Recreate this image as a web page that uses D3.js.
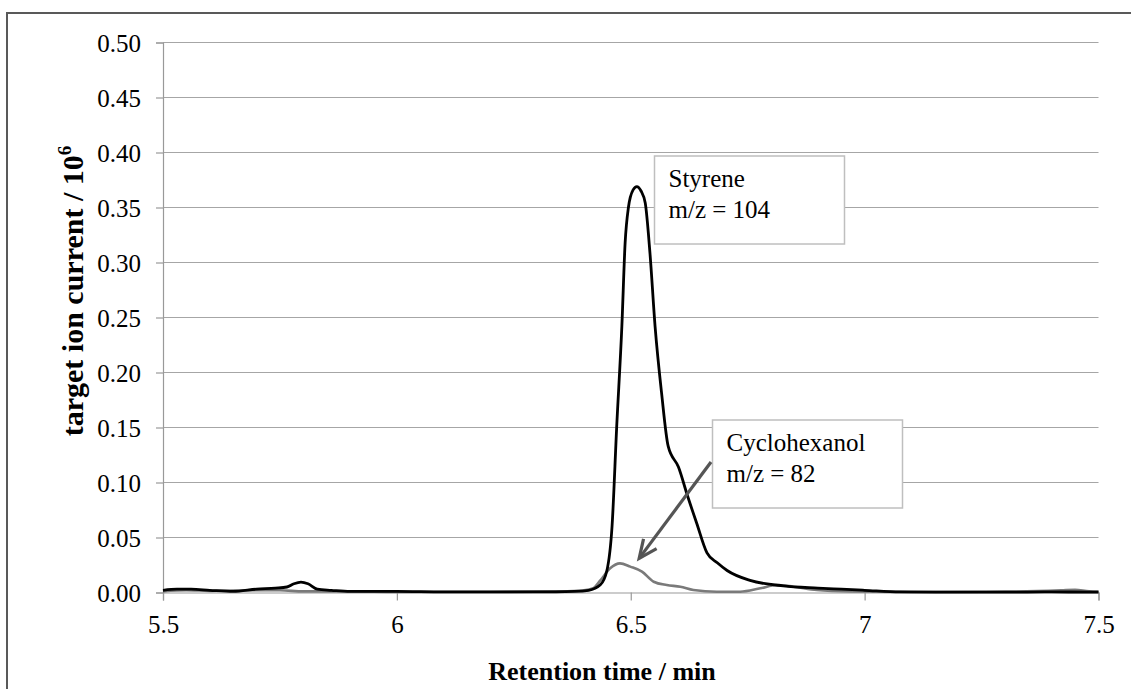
<!DOCTYPE html>
<html>
<head>
<meta charset="utf-8">
<script src="https://cdn.jsdelivr.net/npm/d3@7"></script>
<style>
  html, body { margin: 0; padding: 0; background: #fff; }
  svg { display: block; }
  text { font-family: "Liberation Serif", "Times New Roman", serif; fill: #000; }
</style>
</head>
<body>
<svg id="chart" width="1131" height="689"></svg>
<script>
// Retention times (min) and target ion currents (x 10^6) for each ion trace
const styreneTime = [5.50, 5.53, 5.56, 5.60, 5.65, 5.70, 5.74, 5.765, 5.78, 5.795, 5.81, 5.83, 5.86, 5.90,
  6.00, 6.10, 6.20, 6.30, 6.38, 6.41, 6.435, 6.449, 6.460, 6.470, 6.481, 6.488, 6.495, 6.505, 6.513,
  6.522, 6.531, 6.541, 6.552, 6.566, 6.580, 6.602, 6.622, 6.641, 6.663, 6.685, 6.706, 6.755, 6.826,
  6.90, 6.95, 7.00, 7.076, 7.20, 7.30, 7.40, 7.50];
const styreneValue = [0.002, 0.003, 0.003, 0.002, 0.001, 0.003, 0.004, 0.005, 0.008, 0.0095, 0.008, 0.003, 0.002, 0.001,
  0.001, 0.0005, 0.0005, 0.0005, 0.001, 0.002, 0.007, 0.020, 0.060, 0.151, 0.242, 0.318, 0.350, 0.366, 0.369,
  0.365, 0.354, 0.309, 0.242, 0.181, 0.133, 0.114, 0.087, 0.063, 0.036, 0.027, 0.020, 0.011, 0.006,
  0.004, 0.003, 0.002, 0.0005, 0.0003, 0.0003, 0.0005, 0.0003];

const cyclohexanolTime = [5.50, 5.55, 5.60, 5.70, 5.75, 5.80, 5.90, 6.00, 6.20, 6.35, 6.40, 6.42, 6.435,
  6.456, 6.477, 6.499, 6.524, 6.549, 6.577, 6.606, 6.634, 6.684, 6.734, 6.777, 6.812, 6.848, 6.898,
  6.97, 7.10, 7.30, 7.42, 7.45, 7.48, 7.50];
const cyclohexanolValue = [0.001, 0.002, 0.0015, 0.002, 0.002, 0.001, 0.001, 0.0005, 0.0005, 0.001, 0.002, 0.004, 0.011,
  0.022, 0.0265, 0.0235, 0.019, 0.0098, 0.0068, 0.0053, 0.0023, 0.0007, 0.0007, 0.0038, 0.0068, 0.0053, 0.0023,
  0.001, 0.0005, 0.0008, 0.002, 0.0025, 0.001, 0.0008];

const xTicks = [5.5, 6, 6.5, 7, 7.5];
const xTickLabels = ["5.5", "6", "6.5", "7", "7.5"];
const yTicks = [0, 0.05, 0.10, 0.15, 0.20, 0.25, 0.30, 0.35, 0.40, 0.45, 0.50];
const yTickLabels = ["0.00", "0.05", "0.10", "0.15", "0.20", "0.25", "0.30", "0.35", "0.40", "0.45", "0.50"];

const svg = d3.select("#chart");
const plot = { left: 163, right: 1098.5, top: 42.5, bottom: 592.5 };

const x = d3.scaleLinear().domain([5.5, 7.5]).range([plot.left, plot.right]);
const y = d3.scaleLinear().domain([0, 0.5]).range([plot.bottom, plot.top]);

// outer chart frame (right and bottom edges fall outside the page)
svg.append("rect")
  .attr("x", 7).attr("y", 13).attr("width", 1200).attr("height", 800)
  .attr("fill", "none").attr("stroke", "#595959").attr("stroke-width", 2);

// horizontal gridlines
svg.append("g")
  .selectAll("line")
  .data(yTicks.slice(1))
  .join("line")
  .attr("x1", plot.left).attr("x2", plot.right)
  .attr("y1", d => y(d)).attr("y2", d => y(d))
  .attr("stroke", "#a6a6a6").attr("stroke-width", 1.2);

// y axis
const yAxis = d3.axisLeft(y).tickValues(yTicks)
  .tickFormat((d, i) => yTickLabels[i]).tickSize(7).tickPadding(15);
const gy = svg.append("g").attr("transform", `translate(${plot.left},0)`).call(yAxis);
gy.select(".domain").attr("stroke", "#999").attr("stroke-width", 1.2);
gy.selectAll(".tick line").attr("stroke", "#999").attr("stroke-width", 1.2);
gy.selectAll(".tick text")
  .attr("font-family", "Liberation Serif").attr("font-size", 25).attr("fill", "#000")
  .attr("dy", "0.34em");

// x axis
const xAxis = d3.axisBottom(x).tickValues(xTicks)
  .tickFormat((d, i) => xTickLabels[i]).tickSize(8).tickPadding(14);
const gx = svg.append("g").attr("transform", `translate(0,${plot.bottom})`).call(xAxis);
gx.select(".domain").attr("stroke", "#999").attr("stroke-width", 1.2);
gx.selectAll(".tick line").attr("stroke", "#999").attr("stroke-width", 1.2);
gx.selectAll(".tick text")
  .attr("font-family", "Liberation Serif").attr("font-size", 25).attr("fill", "#000")
  .attr("dy", "0.72em");

// traces
const line = d3.line().curve(d3.curveMonotoneX).x(d => x(d[0])).y(d => y(d[1]));
const cyclohexanol = d3.zip(cyclohexanolTime, cyclohexanolValue);
const styrene = d3.zip(styreneTime, styreneValue);

svg.append("path").datum(cyclohexanol).attr("d", line)
  .attr("fill", "none").attr("stroke", "#7a7a7a").attr("stroke-width", 2.6)
  .attr("stroke-linejoin", "round");
svg.append("path").datum(styrene).attr("d", line)
  .attr("fill", "none").attr("stroke", "#000").attr("stroke-width", 2.8)
  .attr("stroke-linejoin", "round");

// axis titles
svg.append("text")
  .attr("x", 602).attr("y", 680).attr("text-anchor", "middle")
  .attr("font-size", 26).attr("font-weight", "bold")
  .text("Retention time / min");

const yTitle = svg.append("text")
  .attr("transform", "translate(83,291) rotate(-90)")
  .attr("text-anchor", "middle")
  .attr("font-size", 30).attr("font-weight", "bold");
yTitle.append("tspan").text("target ion current / 10");
yTitle.append("tspan").attr("dy", -12).attr("font-size", 19).text("6");

// annotation boxes
function labelBox(bx, by, lines) {
  const g = svg.append("g");
  g.append("rect").attr("x", bx).attr("y", by).attr("width", 190).attr("height", 88)
    .attr("fill", "#fff").attr("stroke", "#bfbfbf").attr("stroke-width", 1.5);
  lines.forEach((t, i) => {
    g.append("text").attr("x", bx + 14).attr("y", by + 31 + i * 31)
      .attr("font-size", 25).text(t);
  });
}
labelBox(654.5, 156, ["Styrene", "m/z = 104"]);
labelBox(712.5, 420, ["Cyclohexanol", "m/z = 82"]);

// arrow pointing at the cyclohexanol peak
const tail = [711, 462], tip = [x(6.518), y(0.031)];
const ang = Math.atan2(tip[1] - tail[1], tip[0] - tail[0]);
svg.append("line")
  .attr("x1", tail[0]).attr("y1", tail[1]).attr("x2", tip[0]).attr("y2", tip[1])
  .attr("stroke", "#555").attr("stroke-width", 3.2);
const head = 20, spread = 0.42;
svg.append("path")
  .attr("d", `M${tip[0] - head * Math.cos(ang - spread)},${tip[1] - head * Math.sin(ang - spread)}
              L${tip[0]},${tip[1]}
              L${tip[0] - head * Math.cos(ang + spread)},${tip[1] - head * Math.sin(ang + spread)}`)
  .attr("fill", "none").attr("stroke", "#555").attr("stroke-width", 3.2)
  .attr("stroke-linejoin", "miter");
</script>
</body>
</html>
